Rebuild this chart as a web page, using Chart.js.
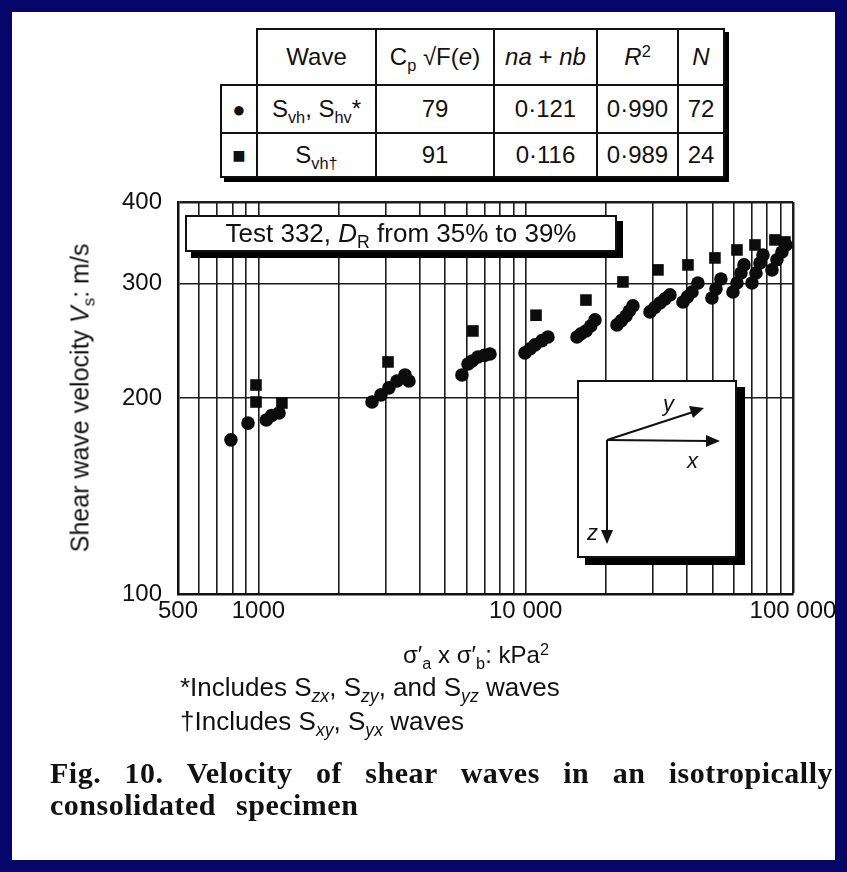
<!DOCTYPE html>
<html>
<head>
<meta charset="utf-8">
<script src="https://cdn.jsdelivr.net/npm/chart.js@4.4.1/dist/chart.umd.min.js"></script>
<style>
  html, body { margin: 0; padding: 0; }
  body {
    width: 847px; height: 872px; position: relative; overflow: hidden;
    background: #05056a;
    font-family: "Liberation Sans", Arial, Helvetica, sans-serif; color: #111;
  }
  #sheet { position: absolute; left: 12px; top: 12px; width: 823px; height: 848px; background: #fff; }
  #chart { position: absolute; left: 0; top: 0; }
  .abs { position: absolute; white-space: nowrap; }
  sub { font-size: 0.68em; vertical-align: -0.35em; line-height: 0; }
  sup { font-size: 0.68em; vertical-align: 0.5em; line-height: 0; }
  i { font-style: italic; }

  #tableWrap { left: 220px; top: 28px; box-shadow: 4px 4px 0 #000; }
  #stats { border-collapse: collapse; font-size: 24px; background: #fff; }
  #stats td { border: 2px solid #111; text-align: center; padding: 0; }
  #stats td.blank { border-top: none; border-left: none; background: #fff; }
  #stats tr.head td { height: 54px; }
  #stats tr.r1 td { height: 46px; }
  #stats tr.r2 td { height: 42px; }
  .mark { font-size: 22px; }

  #testBox {
    left: 185px; top: 215px; width: 428px; height: 33px;
    border: 2px solid #111; background: #fff; box-shadow: 6px 6px 0 #000;
    font-size: 26px; text-align: center; line-height: 33px;
  }
  #axesBox {
    left: 577px; top: 380px; width: 156px; height: 174px;
    border: 2px solid #111; background: #fff; box-shadow: 8px 7px 0 #000;
  }
  #yTitle { left: 80px; top: 398px; font-size: 25px; transform: translate(-50%, -50%) rotate(-90deg); }
  #xTitle { left: 476px; top: 655px; font-size: 24px; transform: translate(-50%, -50%); }
  .note { left: 180px; font-size: 26px; }
  .caption {
    left: 50px; width: 783px; font-family: "Liberation Serif", "Times New Roman", serif;
    font-weight: bold; font-size: 30px; letter-spacing: 0.5px;
  }
  #cap1 { top: 756px; text-align: justify; text-align-last: justify; }
  #cap2 { top: 788px; word-spacing: 12px; }
</style>
</head>
<body>
<div id="sheet"></div>
<canvas id="chart" width="847" height="872"></canvas>

<div id="tableWrap" class="abs">
  <table id="stats">
    <tr class="head">
      <td class="blank" style="width:35px"></td>
      <td style="width:117px">Wave</td>
      <td style="width:116px">C<sub>p</sub> √F(<i>e</i>)</td>
      <td style="width:101px"><i>na</i> + <i>nb</i></td>
      <td style="width:79px"><i>R</i><sup>2</sup></td>
      <td style="width:44px"><i>N</i></td>
    </tr>
    <tr class="r1">
      <td><span class="mark">●</span></td>
      <td>S<sub>vh</sub>, S<sub>hv</sub>*</td>
      <td>79</td><td>0·121</td><td>0·990</td><td>72</td>
    </tr>
    <tr class="r2">
      <td><span class="mark">■</span></td>
      <td>S<sub>vh†</sub></td>
      <td>91</td><td>0·116</td><td>0·989</td><td>24</td>
    </tr>
  </table>
</div>

<div id="testBox" class="abs">Test 332, <i>D</i><sub>R</sub> from 35% to 39%</div>

<div id="axesBox" class="abs">
  <svg width="156" height="174" viewBox="0 0 156 174">
    <g stroke="#111" stroke-width="2" fill="none">
      <line x1="28" y1="58" x2="130" y2="59"/>
      <line x1="28" y1="58" x2="114" y2="30"/>
      <line x1="28" y1="58" x2="28" y2="150"/>
    </g>
    <g fill="#111">
      <polygon points="141,59 127,53 127,65"/>
      <polygon points="125,26 110,24 114,36"/>
      <polygon points="28,162 22,148 34,148"/>
    </g>
    <g font-family="Liberation Sans, Arial, sans-serif" font-style="italic" font-size="22" fill="#111">
      <text x="84" y="29">y</text>
      <text x="108" y="86">x</text>
      <text x="8" y="158">z</text>
    </g>
  </svg>
</div>

<div id="yTitle" class="abs">Shear wave velocity <i>V</i><sub>s</sub>: m/s</div>
<div id="xTitle" class="abs">σ′<sub>a</sub> x σ′<sub>b</sub>: kPa<sup>2</sup></div>
<div class="abs note" style="top:672px">*Includes S<sub><i>zx</i></sub>, S<sub><i>zy</i></sub>, and S<sub><i>yz</i></sub> waves</div>
<div class="abs note" style="top:706px">†Includes S<sub><i>xy</i></sub>, S<sub><i>yx</i></sub> waves</div>
<div id="cap1" class="abs caption">Fig. 10. Velocity of shear waves in an isotropically</div>
<div id="cap2" class="abs caption">consolidated specimen</div>

<script>
// S_vh, S_hv waves (circles): stress product kPa^2, velocity m/s
const circleX = [789, 914, 1070, 1120, 1194,
  2659, 2873, 3077, 3298, 3533, 3657,
  5773, 6081, 6300, 6627, 7000, 7350,
  9936, 10400, 10830, 11500, 12110,
  15550, 16100, 16800, 17500, 18160,
  21950, 22800, 23720, 24400, 25180,
  29170, 30400, 31780, 33200, 34640,
  38750, 40300, 41880, 44080,
  49730, 51500, 53740,
  59610, 61710, 63880, 65560,
  70220, 72700, 75240, 77210,
  83420, 87080, 90900, 94100]
const circleY = [172.5, 183, 185, 188, 189.7,
  197.2, 202.2, 207.3, 212.4, 217, 212.4,
  217, 225.6, 228, 231.2, 232.5, 233.7,
  234.6, 238, 241.3, 245, 248.2,
  248.2, 251, 253.5, 258, 263.6,
  259, 263, 267.3, 272, 277,
  271.2, 275.5, 279.9, 284, 288,
  280.9, 286, 291, 300.4,
  284.9, 294.2, 304.7,
  291, 300.4, 311.2, 320.2,
  300.4, 311.2, 322.4, 331.7,
  314.6, 326.1, 335.2, 343.6]

// S_vh† waves (squares)
const squareX = [979, 979, 1224, 3053, 6346, 10927, 16800, 23110, 31240, 40460, 51040, 61710, 72070, 85600, 93300]
const squareY = [209.4, 197.2, 196.5, 227.2, 253.5, 268, 282.8, 301.5, 314.6, 320.2, 328.2, 337.6, 343.6, 349.8, 347.3]

const xTicks = [500, 600, 700, 800, 900, 1000, 2000, 3000, 4000, 5000, 6000, 7000, 8000, 9000,
  10000, 20000, 30000, 40000, 50000, 60000, 70000, 80000, 90000, 100000]
const xTickLabels = ["500", "", "", "", "", "1000", "", "", "", "", "", "", "", "",
  "10 000", "", "", "", "", "", "", "", "", "100 000"]
const yTicks = [100, 200, 300, 400]
const yTickLabels = ["100", "200", "300", "400"]

const ink = "#111"
const font = { family: "'Liberation Sans', Arial, sans-serif", size: 24 }

const toPoints = (xs, ys) => xs.map((x, i) => ({ x, y: ys[i] }))

new Chart(document.getElementById("chart"), {
  type: "scatter",
  data: {
    datasets: [
      {
        label: "Svh, Shv",
        data: toPoints(circleX, circleY),
        pointStyle: "circle",
        pointRadius: 6.8,
        backgroundColor: "#0c0c0c",
        borderWidth: 0,
      },
      {
        label: "Svh†",
        data: toPoints(squareX, squareY),
        pointStyle: "rect",
        pointRadius: 8.2,
        backgroundColor: "#0c0c0c",
        borderWidth: 0,
      },
    ],
  },
  options: {
    responsive: false,
    animation: false,
    devicePixelRatio: 1,
    layout: { padding: { left: 108, right: 54, top: 202, bottom: 238 } },
    scales: {
      x: {
        type: "logarithmic",
        min: 500,
        max: 100000,
        afterBuildTicks: s => { s.ticks = xTicks.map(v => ({ value: v })) },
        afterFit: s => { s.height = 40 },
        ticks: {
          autoSkip: false, maxRotation: 0, padding: 3, color: ink, font,
          callback: (v, i) => xTickLabels[i],
        },
        grid: {
          drawTicks: false,
          color: "#1c1c1c",
          lineWidth: ctx => (ctx.tick && ctx.tick.value === 100000 ? 2.5 : 1.6),
        },
        border: { color: ink, width: 2.5 },
      },
      y: {
        type: "logarithmic",
        min: 100,
        max: 400,
        afterBuildTicks: s => { s.ticks = yTicks.map(v => ({ value: v })) },
        afterFit: s => { s.width = 70 },
        ticks: {
          autoSkip: false, padding: 16, color: ink, font,
          callback: (v, i) => yTickLabels[i],
        },
        grid: {
          drawTicks: false,
          color: "#1c1c1c",
          lineWidth: ctx => (ctx.tick && ctx.tick.value === 400 ? 2.5 : 1.6),
        },
        border: { color: ink, width: 2.5 },
      },
    },
    plugins: {
      legend: { display: false },
      tooltip: { enabled: false },
    },
  },
})
</script>
</body>
</html>
